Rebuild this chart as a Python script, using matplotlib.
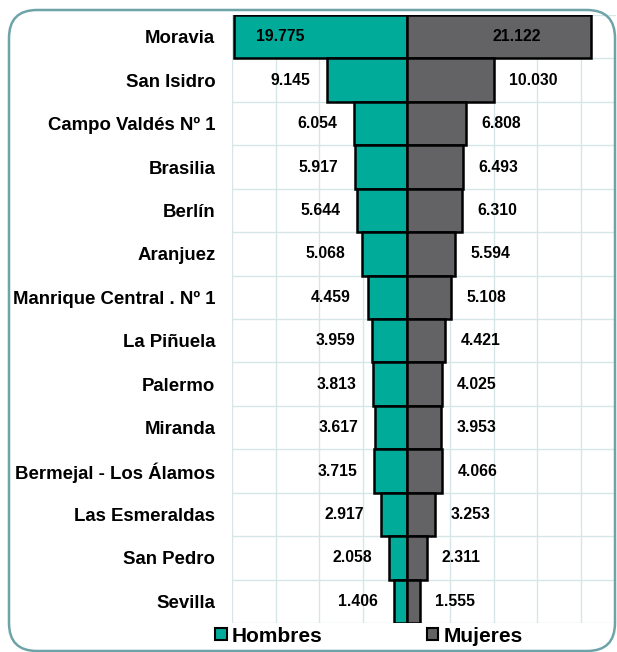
import matplotlib
matplotlib.use("Agg")
import matplotlib.pyplot as plt
from matplotlib.patches import Patch, FancyBboxPatch
from matplotlib.transforms import IdentityTransform
import numpy as np

barrios = ["Moravia", "San Isidro", "Campo Valdés Nº 1", "Brasilia", "Berlín",
           "Aranjuez", "Manrique Central . Nº 1", "La Piñuela", "Palermo",
           "Miranda", "Bermejal - Los Álamos", "Las Esmeraldas", "San Pedro",
           "Sevilla"]
hombres = [19775, 9145, 6054, 5917, 5644, 5068, 4459, 3959, 3813, 3617,
           3715, 2917, 2058, 1406]
mujeres = [21122, 10030, 6808, 6493, 6310, 5594, 5108, 4421, 4025, 3953,
           4066, 3253, 2311, 1555]

c_h = "#00ab9a"
c_m = "#636264"
xmin, xmax = -20000, 24000

plt.rcParams["font.family"] = ["Liberation Sans", "DejaVu Sans"]
plt.rcParams["font.weight"] = "bold"

fig = plt.figure(figsize=(6.17, 6.52), dpi=100)
ax = fig.add_axes([232 / 617, 1 - 623 / 652, (616 - 232) / 617, (623 - 15) / 652])

y = np.arange(len(barrios))
h = -np.array(hombres)
m = np.array(mujeres)
ax.barh(y, h, height=1.0, color=c_h, edgecolor="black", linewidth=1.8, zorder=3)
ax.barh(y, m, height=1.0, color=c_m, edgecolor="black", linewidth=1.8, zorder=3)


def fmt(v):
    return f"{abs(v):,}".replace(",", ".")


for yi, hv, mv in zip(y, h, m):
    # label outside the bar end, or inside when it would not fit
    if hv - 5200 < xmin:
        ax.text(hv * 0.73, yi, fmt(hv), ha="center", va="center",
                fontsize=11.3, fontweight="bold", zorder=4)
    else:
        ax.annotate(fmt(hv), (hv, yi), xytext=(-12, 0), textcoords="offset points",
                    ha="right", va="center", fontsize=11.3, fontweight="bold", zorder=4)
    if mv + 5200 > xmax:
        ax.text(mv * 0.6, yi, fmt(mv), ha="center", va="center",
                fontsize=11.3, fontweight="bold", zorder=4)
    else:
        ax.annotate(fmt(mv), (mv, yi), xytext=(11, 0), textcoords="offset points",
                    ha="left", va="center", fontsize=11.3, fontweight="bold", zorder=4)

ax.set_xlim(xmin, xmax)
ax.set_ylim(len(barrios) - 0.5, -0.5)
ax.set_yticks(y)
ax.set_yticklabels(barrios, fontsize=13.4, fontweight="bold")
ax.set_yticks(np.arange(len(barrios) + 1) - 0.5, minor=True)
ax.set_xticks(np.arange(-20000, 24000, 5000))
ax.set_xticklabels([])
ax.tick_params(axis="both", which="both", length=0, pad=12)
ax.grid(axis="x", which="major", color="#d6e6e6", linewidth=1, zorder=0)
ax.grid(axis="y", which="minor", color="#d6e6e6", linewidth=1, zorder=0)
for s in ax.spines.values():
    s.set_visible(False)

handles = [Patch(facecolor=c_h, edgecolor="black", linewidth=1.5, label="Hombres"),
           Patch(facecolor=c_m, edgecolor="black", linewidth=1.5, label="Mujeres")]
fig.legend(handles=handles, loc="center", bbox_to_anchor=(369 / 617, 1 - 636 / 652),
           ncol=2, frameon=False, prop={"size": 15, "weight": "bold"},
           handlelength=0.55, handleheight=0.55, handletextpad=0.25,
           columnspacing=5.0, borderpad=0)

border = FancyBboxPatch((9, 1), 606, 641, boxstyle="round,pad=0,rounding_size=28",
                        transform=IdentityTransform(), facecolor="none",
                        edgecolor="#6ea3a8", linewidth=1.8, zorder=10)
fig.patches.append(border)

fig.savefig("out.png", dpi=100)
